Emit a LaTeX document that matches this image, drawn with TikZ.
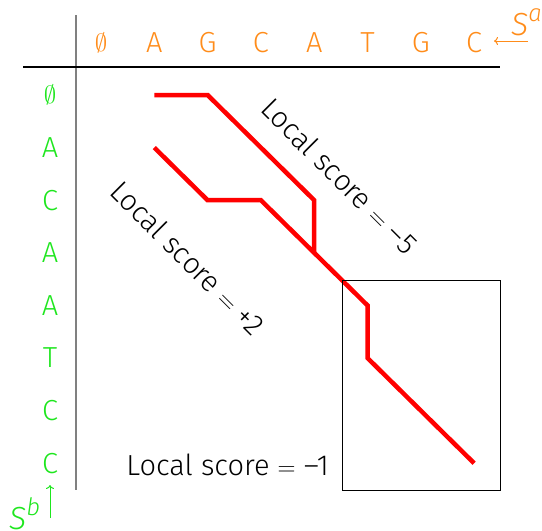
\documentclass[tikz,border=0pt]{standalone}
\usepackage{fontspec}
\usetikzlibrary{arrows.meta}
\setmainfont{Fira Sans}[UprightFont={* Light},ItalicFont={* Light Italic}]
\definecolor{seqa}{RGB}{255,140,26}
\definecolor{seqb}{RGB}{30,230,30}
\newcommand{\eqsep}{\hspace{0.28em}$=$\hspace{0.28em}}
\newcommand{\supx}[1]{\raisebox{0.45em}{\fontsize{24}{28}\selectfont\itshape #1}}
\tikzset{
  redpath/.style={draw={rgb,255:red,255;green,0;blue,0}, line width=4.5pt, line join=miter},
  lettera/.style={text=seqa, inner sep=0pt},
  letterb/.style={text=seqb, inner sep=0pt},
  scorelbl/.style={inner sep=0pt},
  seqname/.style={inner sep=0pt, font=\fontsize{32}{36}\selectfont\itshape},
}
\begin{document}
\begin{tikzpicture}[x=1pt,y=-1pt,font=\fontsize{29}{34}\selectfont]
\useasboundingbox (0,0) rectangle (542,531);
% grid coordinates
\foreach \c in {0,...,7}{
  \foreach \r in {0,...,7}{
    \coordinate (g\c\r) at ({101+53.3*\c},{95+52.6*\r});
  }
}
% axes lines
\coordinate (vtop) at (76,15);
\coordinate (vbot) at (76,490);
\coordinate (hl) at (23,67);
\coordinate (hr) at (500,67);
\draw[gray, line width=2.5pt] (vtop) -- (vbot);
\draw[black, line width=1.3pt] (hl) -- (hr);
% top sequence
\foreach \l [count=\i from 0] in {$\emptyset$,A,G,C,A,T,G,C}{
  \node[lettera] (t\i) at ({101+53.3*\i},43) {\l};
}
% left sequence
\foreach \l [count=\i from 0] in {$\emptyset$,A,C,A,A,T,C,C}{
  \node[letterb] (l\i) at (50,{95+52.6*\i}) {\l};
}
% S^a and S^b
\node[lettera, seqname, anchor=west] (sa) at (511,22) {S\supx{a}};
\coordinate (saarr1) at (528,41);
\coordinate (saarr2) at (494,41);
\draw[seqa, line width=1pt, -{To[length=4pt,width=8pt]}] (saarr1) -- (saarr2);
\node[letterb, seqname, anchor=west] (sb) at (9,514) {S\supx{b}};
\coordinate (sbarr1) at (50,518);
\coordinate (sbarr2) at (50,485);
\draw[seqb, line width=1pt, -{To[length=4pt,width=8pt]}] (sbarr1) -- (sbarr2);
% paths
\draw[redpath] (g10) -- (g20) -- (g42) -- (g43);
\draw[redpath] (g11) -- (g22) -- (g32) -- (g43) -- (g54) -- (g55) -- (g77);
% box
\node[draw, line width=1pt, minimum width=158pt, minimum height=210pt, inner sep=0pt] (box) at (421,385) {};
% labels
\node[scorelbl, rotate=-45] (s5) at (340,176) {Local score\eqsep–5};
\node[scorelbl, rotate=-45] (s2) at (188,258) {Local score\eqsep+2};
\node[scorelbl, anchor=east] (s1) at (329,465) {Local score\eqsep–1};
\end{tikzpicture}
\end{document}
